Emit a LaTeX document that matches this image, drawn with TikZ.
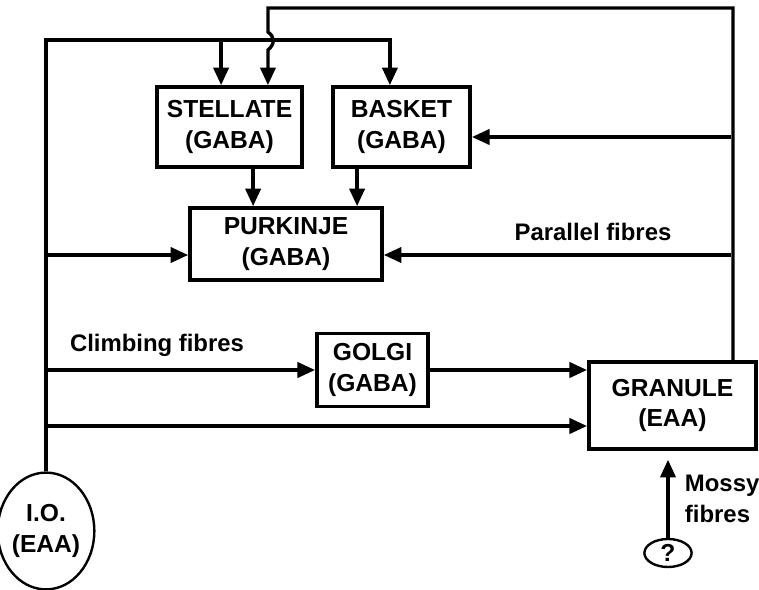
\documentclass[tikz,border=0pt]{standalone}
\usepackage{fontspec}
\setmainfont{Liberation Sans}
\usetikzlibrary{arrows.meta,shapes.geometric}
\tikzset{
  cell/.style={draw,line width=2.6pt,rectangle,align=center,inner sep=1pt},
  nucleus/.style={draw,line width=1.7pt,ellipse,align=center,inner sep=0pt},
  fib/.style={line width=2.4pt},
  fibto/.style={fib,-{Triangle[length=4.4mm,width=3.8mm]}},
  tag/.style={font=\fontsize{17}{22}\selectfont\bfseries}
}
\begin{document}
\begin{tikzpicture}[x=0.025cm,y=-0.025cm,every node/.style={font=\fontsize{17.5}{21.5}\selectfont\bfseries}]
\useasboundingbox (0,0) rectangle (759,590);
\node[cell,minimum width=3.63cm,minimum height=2cm] (stellate) at (229.5,127) {STELLATE\\(GABA)};
\node[cell,minimum width=3.43cm,minimum height=2cm] (basket) at (401.5,127) {BASKET\\(GABA)};
\node[cell,minimum width=4.8cm,minimum height=1.8cm] (purkinje) at (286,244) {PURKINJE\\(GABA)};
\node[cell,minimum width=2.78cm,minimum height=1.83cm] (golgi) at (372.5,370) {GOLGI\\(GABA)};
\node[cell,minimum width=4.18cm,minimum height=2.18cm] (granule) at (672.5,405.5) {GRANULE\\(EAA)};
\node[nucleus,minimum width=2cm,minimum height=2.92cm] (io) at (46,531) {I.O.\\(EAA)};
\node[nucleus,minimum width=1.18cm,minimum height=0.7cm] (q) at (668,553) {?};
\node[tag] (climb) at (157,345) {Climbing fibres};
\node[tag] (para) at (593,232) {Parallel fibres};
\node[tag,anchor=west,align=left] (mossy) at (680,499) {Mossy\\fibres};
\coordinate (top) at (46,40);
\coordinate (ret) at (731,8);
\coordinate (pk) at (46,255);
\coordinate (low) at (46,426);
\draw[fibto] (io.north) -- (top) -| ([xshift=-2.9mm]basket.north);
\draw[fibto] ([xshift=-2.1mm]stellate.north |- top) -- ([xshift=-2.1mm]stellate.north);
\draw[fibto] ([xshift=-6.25mm]granule.north east) |- (ret) -| (268,32)
  .. controls (275,37) and (275,44) .. (268,50) -- ([xshift=9.6mm]stellate.north);
\draw[fibto] (pk) -- (pk -| purkinje.west);
\draw[fibto] (pk -| ret) -- (pk -| purkinje.east);
\draw[fibto] ([yshift=-2.5mm]basket.east -| ret) -- ([yshift=-2.5mm]basket.east);
\draw[fibto] (top |- golgi.west) -- (golgi.west);
\draw[fibto] (golgi.east) -- (golgi.east -| granule.west);
\draw[fibto] (low) -- (low -| granule.west);
\draw[fibto] ([xshift=5.9mm]stellate.south) -- ([xshift=5.9mm]stellate.south |- purkinje.north);
\draw[fibto] ([xshift=-11.1mm]basket.south) -- ([xshift=-11.1mm]basket.south |- purkinje.north);
\draw[fibto,shorten >=2.2mm] (q.north) -- (q.north |- granule.south);
\end{tikzpicture}
\end{document}
